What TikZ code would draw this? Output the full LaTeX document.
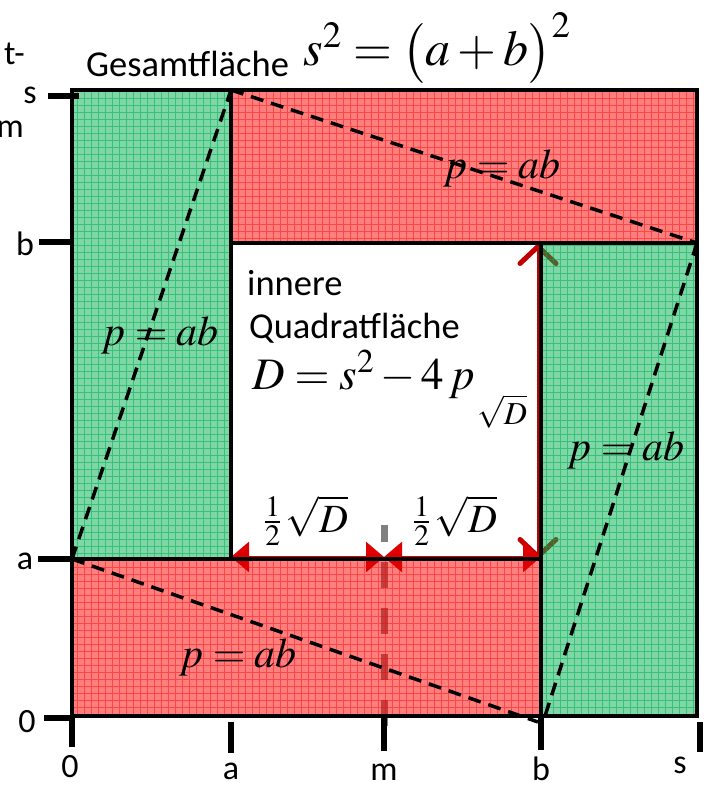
\documentclass[tikz,border=0pt]{standalone}
\usepackage{mathptmx}
\usepackage{fontspec}
\setmainfont{Carlito}
\usetikzlibrary{arrows.meta}
\definecolor{grn}{RGB}{0,176,80}
\definecolor{rd}{RGB}{255,0,0}
\definecolor{dred}{RGB}{192,0,0}
\definecolor{ared}{RGB}{222,0,0}
\tikzset{
  lbl/.style={font=\fontsize{34}{40}\selectfont, inner sep=0pt},
  txt/.style={font=\fontsize{36.5}{40}\selectfont, inner sep=0pt},
  frm/.style={font=\fontsize{#1}{#1}\selectfont, inner sep=0pt},
  border/.style={line width=4pt, black},
  diag/.style={line width=3.5pt, dash pattern=on 13pt off 8pt},
  tickmark/.style={line width=6pt, black},
  gfill/.style={fill=grn, fill opacity=0.5},
  rfill/.style={fill=rd, fill opacity=0.5},
  ggrid/.style={draw=grn, line width=0.9pt, draw opacity=0.55},
  rgrid/.style={draw=rd, line width=0.9pt, draw opacity=0.45},
  harrow/.style={ared, line width=3pt, {Triangle[length=18pt,width=30pt]}-{Triangle[length=18pt,width=30pt]}},
  varrow/.style={dred, line width=2pt, {Straight Barb[length=17pt,width=36pt,line width=5pt,round]}-{Straight Barb[length=17pt,width=36pt,line width=5pt,round]}},
}
\begin{document}
\begin{tikzpicture}[x=1pt,y=-1pt]
\useasboundingbox (0,0) rectangle (707,789);
% key points
\coordinate (p0a) at (72,559);
\coordinate (pas) at (231,90);
\coordinate (pss) at (697,90);
\coordinate (psb) at (697,243);
\coordinate (pbb) at (541,243);
\coordinate (pab) at (231,243);
\coordinate (paa) at (231,559);
\coordinate (pba) at (541,559);
\coordinate (pma) at (384,559);
\coordinate (p00) at (72,716);
\coordinate (pb0) at (541,716);
\coordinate (ps0) at (697,716);
\coordinate (p0s) at (72,90);

% grey dashed middle line (under the fills)
\coordinate (gtop) at (384,525);
\coordinate (gbot) at (384,735);
\draw[line width=7pt, gray, dash pattern=on 26pt off 20pt, dash phase=9pt] (gtop) -- (gbot);

% vertical red arrow (under the fills)
\coordinate (vb) at (538,559);
\coordinate (vt) at (538,244);
\draw[varrow] (vb) -- (vt);

% fills and grids
\fill[gfill] (p0s) rectangle (paa);
\begin{scope}\clip (p0s) rectangle (paa); \draw[ggrid] (p0s) grid[step=7pt] (paa);\end{scope}
\fill[rfill] (pas) rectangle (psb);
\begin{scope}\clip (pas) rectangle (psb); \draw[rgrid] (pas) grid[step=7pt] (psb);\end{scope}
\fill[gfill] (pbb) rectangle (ps0);
\begin{scope}\clip (pbb) rectangle (ps0); \draw[ggrid] (pbb) grid[step=7pt] (ps0);\end{scope}
\fill[rfill] (p0a) rectangle (pb0);
\begin{scope}\clip (p0a) rectangle (pb0); \draw[rgrid] (p0a) grid[step=7pt] (pb0);\end{scope}

% horizontal red arrows
\coordinate (ha) at (231,557);
\coordinate (hm) at (384,557);
\coordinate (hb) at (541,557);
\draw[harrow] (ha) -- (hm);
\draw[harrow] (hm) -- (hb);

% borders
\draw[border] (p0s) rectangle (paa);
\draw[border] (pas) rectangle (psb);
\draw[border] (pbb) rectangle (ps0);
\draw[border] (p0a) rectangle (pb0);

% dashed diagonals
\coordinate (d4) at (538,722);
\coordinate (d3) at (545,716);
\draw[diag] (p0a) -- (pas);
\draw[diag] (pas) -- (psb);
\draw[diag] (psb) -- (d3);
\draw[diag] (p0a) -- (d4);

% left ticks
\draw[tickmark] (48,96) -- (79,96);
\draw[tickmark] (39,242) -- (72,242);
\draw[tickmark] (38,559) -- (72,559);
\draw[tickmark] (44,718) -- (72,718);
% bottom ticks
\draw[tickmark] (72,716) -- (72,747);
\draw[tickmark] (231,722) -- (231,753);
\draw[tickmark] (384,718) -- (384,751);
\draw[tickmark] (541,716) -- (541,750);
\draw[tickmark] (700,722) -- (700,752);

% axis labels
\node[lbl] (ls) at (30,95) {s};
\node[lbl] (lb) at (25,244) {b};
\node[lbl] (la) at (25,561) {a};
\node[lbl] (l0) at (27,722) {0};
\node[lbl] (bx0) at (70,767) {0};
\node[lbl] (bxa) at (231,771) {a};
\node[lbl] (bxm) at (384,772) {m};
\node[lbl] (bxb) at (541,769) {b};
\node[lbl] (bxs) at (680,765) {s};
\node[lbl, anchor=base east] (tcut) at (25,65) {t-};
\node[lbl, anchor=base east] (mcut) at (24,138) {m};

% titles
\node[txt, anchor=base west] (gesamt) at (86,77) {Gesamtfläche};
\node[frm=50, anchor=base] (seq) at (437,66) {$s^{2}=\bigl(a+b\bigr)^{2}$};
\node[txt, anchor=base west] (inn) at (247,295) {innere};
\node[txt, anchor=base west] (quad) at (249,338) {Quadratfläche};
\node[frm=45, anchor=base west] (deq) at (252,389) {$D=s^{2}-4\,p$};
\node[frm=32, anchor=base] (sqd) at (502,424) {$\sqrt{D}$};
\node[frm=40, anchor=base] (hl) at (306,532) {${\textstyle\frac{1}{2}}\,\sqrt{D}$};
\node[frm=40, anchor=base] (hr) at (455,532) {${\textstyle\frac{1}{2}}\,\sqrt{D}$};

% p = ab labels
\node[frm=42, anchor=base] (pt) at (502,178) {$p=ab$};
\node[frm=42, anchor=base] (pl) at (160,345) {$p=ab$};
\node[frm=42, anchor=base] (pr) at (626,460) {$p=ab$};
\node[frm=42, anchor=base] (pb) at (238,667) {$p=ab$};
\end{tikzpicture}
\end{document}
